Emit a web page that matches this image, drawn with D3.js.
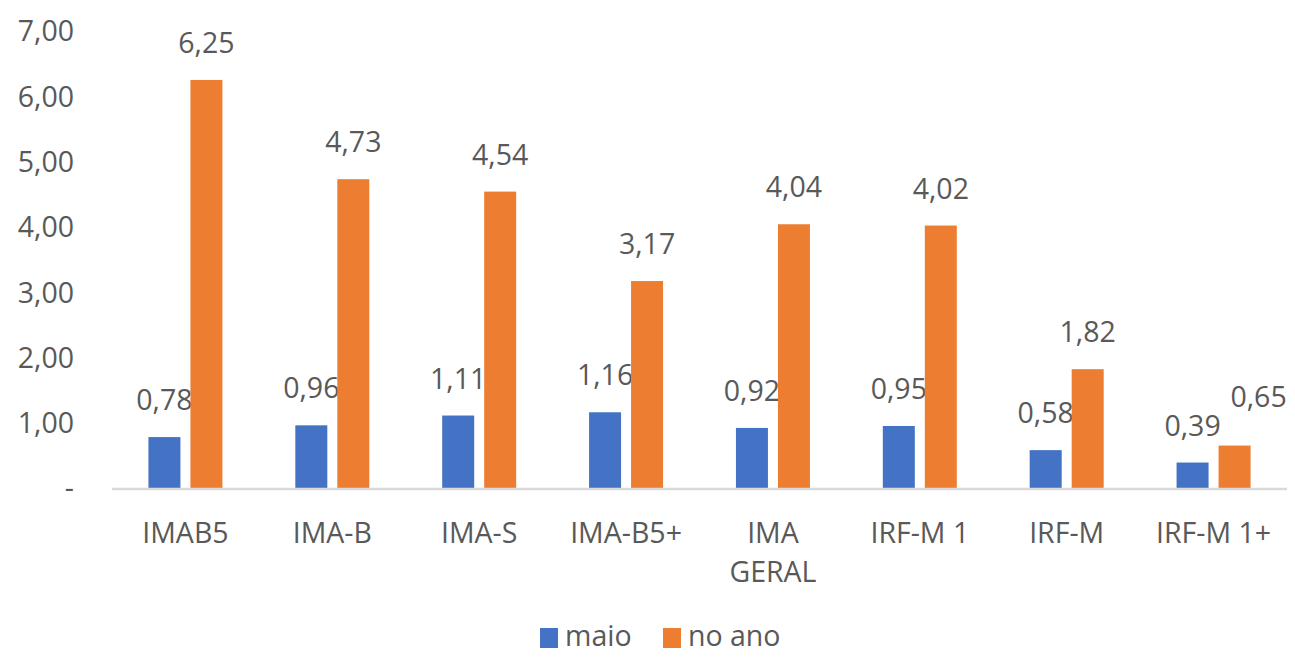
<!DOCTYPE html>
<html>
<head>
<meta charset="utf-8">
<script src="https://cdn.jsdelivr.net/npm/d3@7"></script>
<style>
  body { margin: 0; background: #fff; overflow: hidden; }
  svg text { font-family: "Open Sans", sans-serif; fill: #595959; }
</style>
</head>
<body>
<svg width="1295" height="657"></svg>
<script>
const categories = ["IMAB5", "IMA-B", "IMA-S", "IMA-B5+", "IMA GERAL", "IRF-M 1", "IRF-M", "IRF-M 1+"];
const maio = [0.78, 0.96, 1.11, 1.16, 0.92, 0.95, 0.58, 0.39];
const noAno = [6.25, 4.73, 4.54, 3.17, 4.04, 4.02, 1.82, 0.65];
const yTicks = [0, 1, 2, 3, 4, 5, 6, 7];
const seriesNames = ["maio", "no ano"];
const colors = ["#4472C4", "#ED7D31"];

const fmt = v => v === 0 ? "-" : v.toFixed(2).replace(".", ",");
const fs = 28.5;

const svg = d3.select("svg");
const x0 = 112, x1 = 1287, yTop = 31, yBase = 488;

const x = d3.scaleBand().domain(categories).range([x0, x1]).paddingInner(0).paddingOuter(0);
const y = d3.scaleLinear().domain([0, 7]).range([yBase, yTop]);
const barW = 32, gap = 10;

// y axis labels (no line)
const yAxis = d3.axisLeft(y).tickValues(yTicks).tickFormat(fmt).tickSize(0).tickPadding(0);
const ya = svg.append("g").attr("transform", "translate(74,0)").call(yAxis);
ya.select(".domain").remove();
ya.selectAll("text").attr("font-size", fs).attr("dy", "0.35em").style("font-family", "'Open Sans', sans-serif").attr("fill", "#595959");

const series = [maio, noAno];
series.forEach((vals, si) => {
  const off = si === 0 ? -(gap / 2 + barW) : gap / 2;
  svg.append("g").selectAll("rect")
    .data(vals)
    .enter().append("rect")
    .attr("x", (d, i) => x(categories[i]) + x.bandwidth() / 2 + off)
    .attr("y", d => y(d))
    .attr("width", barW)
    .attr("height", d => y(0) - y(d))
    .attr("fill", colors[si]);

  svg.append("g").selectAll("text")
    .data(vals)
    .enter().append("text")
    .attr("x", (d, i) => {
      let cx = x(categories[i]) + x.bandwidth() / 2 + off + barW / 2;
      // last orange label nudged right to avoid overlap, as in the original
      if (si === 1 && i === vals.length - 1) cx += 24;
      return cx;
    })
    .attr("y", (d, i) => y(d) - 27 - (si === 1 && i === vals.length - 1 ? 12 : 0))
    .attr("text-anchor", "middle")
    .attr("font-size", fs)
    .text(d => fmt(d));
});

// x axis line
svg.append("line")
  .attr("x1", x0).attr("x2", x1)
  .attr("y1", yBase + 1).attr("y2", yBase + 1)
  .attr("stroke", "#d9d9d9").attr("stroke-width", 2.5);

// category labels
const xl = svg.append("g").selectAll("text")
  .data(categories)
  .enter().append("text")
  .attr("x", d => x(d) + x.bandwidth() / 2)
  .attr("y", 543)
  .attr("text-anchor", "middle")
  .attr("font-size", fs);
xl.each(function(d) {
  const parts = d === "IMA GERAL" ? ["IMA", "GERAL"] : [d];
  const t = d3.select(this);
  parts.forEach((p, k) => {
    t.append("tspan").attr("x", x(d) + x.bandwidth() / 2).attr("dy", k === 0 ? 0 : 39).text(p);
  });
});

// legend
const legend = svg.append("g");
const legX = [540, 663];
seriesNames.forEach((n, i) => {
  legend.append("rect").attr("x", legX[i]).attr("y", 628).attr("width", 18).attr("height", 20).attr("fill", colors[i]);
  legend.append("text").attr("x", legX[i] + 25).attr("y", 646).attr("font-size", fs).text(n);
});
</script>
</body>
</html>
